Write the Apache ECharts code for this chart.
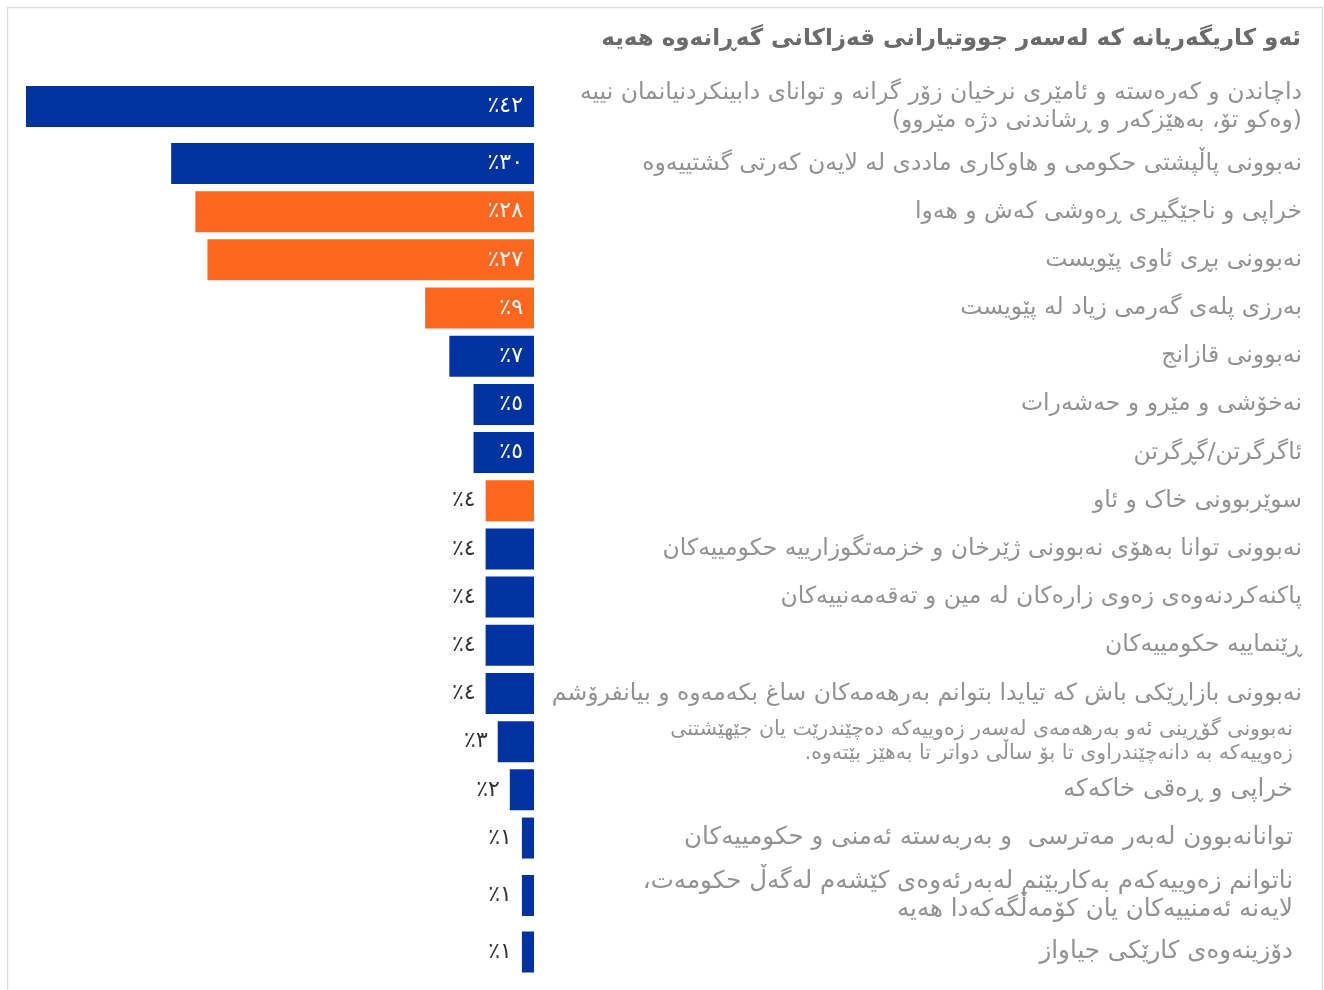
<!DOCTYPE html>
<html>
<head>
<meta charset="utf-8">
<script src="https://cdn.jsdelivr.net/npm/echarts@6/dist/echarts.min.js"></script>
<style>
  html, body { margin: 0; padding: 0; background: #fff; }
  #chart { width: 1324px; height: 990px; }
</style>
</head>
<body>
<div id="chart" dir="rtl"></div>
<script>
const chartTitle = 'ئەو کاریگەریانە کە لەسەر جووتیارانی قەزاکانی گەڕانەوە هەیە';

const categories = [
  'داچاندن و کەرەستە و ئامێری نرخیان زۆر گرانە و توانای دابینکردنیانمان نییە\n(وەکو تۆ، بەهێزکەر و ڕشاندنی دژە مێروو)',
  'نەبوونی پاڵپشتی حکومی و هاوکاری ماددی لە لایەن کەرتی گشتییەوە',
  'خراپی و ناجێگیری ڕەوشی کەش و هەوا',
  'نەبوونی بڕی ئاوی پێویست',
  'بەرزی پلەی گەرمی زیاد لە پێویست',
  'نەبوونی قازانج',
  'نەخۆشی و مێرو و حەشەرات',
  'ئاگرگرتن/گڕگرتن',
  'سوێربوونی خاک و ئاو',
  'نەبوونی توانا بەهۆی نەبوونی ژێرخان و خزمەتگوزارییە حکومییەکان',
  'پاکنەکردنەوەی زەوی زارەکان لە مین و تەقەمەنییەکان',
  'ڕێنماییە حکومییەکان',
  'نەبوونی بازاڕێکی باش کە تیایدا بتوانم بەرهەمەکان ساغ بکەمەوە و بیانفرۆشم',
  'نەبوونی گۆڕینی ئەو بەرهەمەی لەسەر زەوییەکە دەچێندرێت یان جێهێشتنی\nزەوییەکە بە دانەچێندراوی تا بۆ ساڵی دواتر تا بەهێز بێتەوە.',
  'خراپی و ڕەقی خاکەکە',
  'توانانەبوون لەبەر مەترسی  و بەربەستە ئەمنی و حکومییەکان',
  'ناتوانم زەوییەکەم بەکاربێنم لەبەرئەوەی کێشەم لەگەڵ حکومەت،\nلایەنە ئەمنییەکان یان کۆمەڵگەکەدا هەیە',
  'دۆزینەوەی کارێکی جیاواز'
];

const values = [42, 30, 28, 27, 9, 7, 5, 5, 4, 4, 4, 4, 4, 3, 2, 1, 1, 1];

// 1 = highlighted (orange), 0 = regular (blue)
const highlighted = [0, 0, 1, 1, 1, 0, 0, 0, 1, 0, 0, 0, 0, 0, 0, 0, 0, 0];

const BLUE = '#0033a0';
const ORANGE = '#ff6720';
const AR_DIGITS = '٠١٢٣٤٥٦٧٨٩';
const toArabic = n => String(n).replace(/\d/g, d => AR_DIGITS[+d]);

// layout sections (rows with taller labels get taller bands)
const sections = [
  { from: 0,  to: 1,  top: 78,     rowH: 57,    margin: 768, fontSize: 23.5 },
  { from: 1,  to: 13, top: 139.4,  rowH: 48.18, margin: 768, fontSize: 23.5 },
  { from: 13, to: 16, top: 717.6,  rowH: 48.18, margin: 759, fontSize: 24.5 },
  { from: 16, to: 18, top: 867.25, rowH: 56.5,  margin: 759, fontSize: 24.5 }
];
const smallLabelRows = [13];
const LABEL_COLOR = '#929292';
const X_MAX = 42;

const grids = [], xAxes = [], yAxes = [], series = [];
sections.forEach((s, gi) => {
  grids.push({
    left: 26, right: 790, top: s.top, height: s.rowH * (s.to - s.from),
    containLabel: false, outerBoundsMode: 'none'
  });
  xAxes.push({ type: 'value', gridIndex: gi, min: 0, max: X_MAX, inverse: true, show: false });
  const cats = [];
  for (let i = s.from; i < s.to; i++) {
    const item = { value: categories[i] };
    if (smallLabelRows.includes(i)) {
      item.textStyle = { fontSize: 20.5, lineHeight: 24, align: 'right', color: LABEL_COLOR, fontFamily: 'DejaVu Sans' };
    }
    cats.push(item);
  }
  yAxes.push({
    type: 'category', gridIndex: gi, position: 'right', inverse: true, data: cats,
    axisLine: { show: false }, axisTick: { show: false }, splitLine: { show: false },
    axisLabel: {
      margin: s.margin, align: 'right', color: LABEL_COLOR,
      fontFamily: 'DejaVu Sans', fontSize: s.fontSize, lineHeight: 28
    }
  });
  const data = [];
  for (let i = s.from; i < s.to; i++) {
    const big = values[i] >= 5;
    data.push({
      value: values[i],
      itemStyle: { color: highlighted[i] ? ORANGE : BLUE },
      label: big
        ? { position: 'insideRight', distance: 11, color: '#ffffff' }
        : { position: 'left', distance: 10, color: '#333333' }
    });
  }
  series.push({
    type: 'bar', xAxisIndex: gi, yAxisIndex: gi, barWidth: 41, data,
    silent: true,
    label: {
      show: true, fontFamily: 'DejaVu Sans', fontSize: 22,
      formatter: p => toArabic(p.value) + '٪'
    }
  });
});

const chart = echarts.init(document.getElementById('chart'), null, { renderer: 'canvas' });
chart.setOption({
  animation: false,
  backgroundColor: '#ffffff',
  title: {
    text: chartTitle, right: 18, top: 23,
    textStyle: { fontFamily: 'DejaVu Sans', fontSize: 23, fontWeight: 'bold', color: '#6b6b6b' }
  },
  graphic: [{
    type: 'rect', left: 5, top: 5, silent: true,
    shape: { width: 1315, height: 1000 },
    style: { fill: 'none', stroke: '#dddddd', lineWidth: 1.5 }
  }],
  grid: grids, xAxis: xAxes, yAxis: yAxes, series
});
</script>
</body>
</html>
